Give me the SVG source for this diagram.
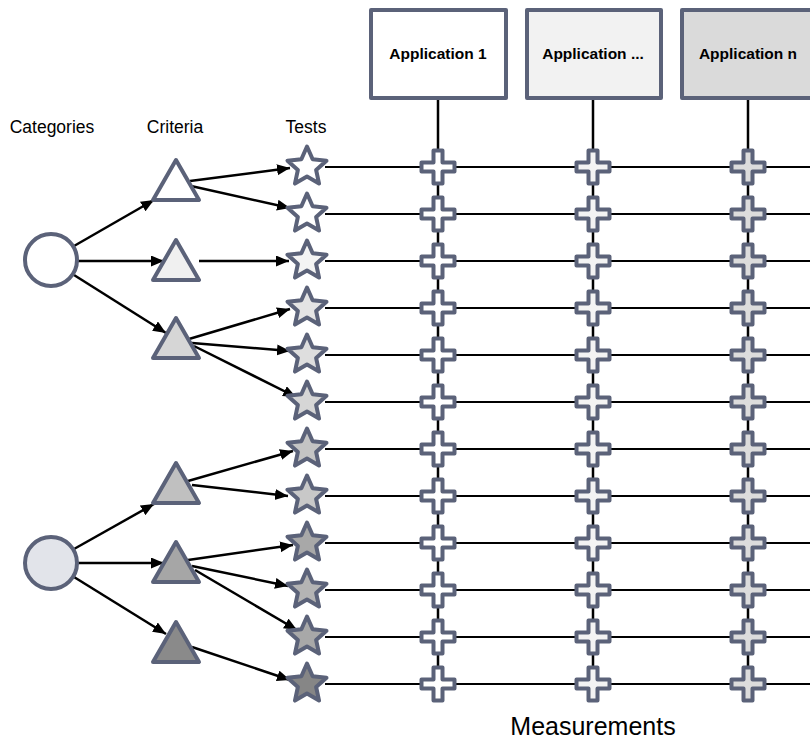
<svg xmlns="http://www.w3.org/2000/svg" xmlns:xlink="http://www.w3.org/1999/xlink" width="810" height="739" viewBox="0 0 810 739">
<defs>
<style>
.sh{stroke:#5b6279;stroke-width:4;stroke-linejoin:round}
.lbl{font-family:"Liberation Sans",Arial,sans-serif;font-size:17.5px;fill:#000}
.app{font-family:"Liberation Sans",Arial,sans-serif;font-size:15.5px;font-weight:bold;fill:#000;text-anchor:middle}
.ar{stroke:#000;stroke-width:2.5;fill:none;marker-end:url(#ah)}
.ln{stroke:#000;stroke-width:2;fill:none}
.vl{stroke:#000;stroke-width:2.5;fill:none}
</style>
<marker id="ah" markerUnits="userSpaceOnUse" markerWidth="14" markerHeight="12" refX="13" refY="5.5" orient="auto">
<path d="M0,0 L13,5.5 L0,11 z" fill="#000"/>
</marker>
<path id="star" d="M0,-20.5 L5.64,-7.77 L19.5,-6.33 L9.13,2.97 L12.05,16.58 L0,9.6 L-12.05,16.58 L-9.13,2.97 L-19.5,-6.33 L-5.64,-7.77 Z"/>
<path id="cross" d="M-4.5,-16.5 H4.5 V-4.5 H16.5 V4.5 H4.5 V16.5 H-4.5 V4.5 H-16.5 V-4.5 H-4.5 Z"/>
<path id="tri" d="M0,-20 L23,20 L-23,20 Z"/>
</defs>
<rect width="810" height="739" fill="#fff"/>

<g id="labels">
<text class="lbl" x="52" y="133" text-anchor="middle">Categories</text>
<text class="lbl" x="175" y="133" text-anchor="middle">Criteria</text>
<text class="lbl" x="306" y="133" text-anchor="middle">Tests</text>
<text class="lbl" x="593" y="735" text-anchor="middle" style="font-size:25px">Measurements</text>
</g>

<g id="connectors">
<line class="vl" x1="438" y1="98" x2="438" y2="684"/>
<line class="vl" x1="593" y1="98" x2="593" y2="684"/>
<line class="vl" x1="748" y1="98" x2="748" y2="684"/>
<line class="ln" x1="325" y1="167" x2="810" y2="167"/>
<line class="ln" x1="325" y1="214" x2="810" y2="214"/>
<line class="ln" x1="325" y1="261" x2="810" y2="261"/>
<line class="ln" x1="325" y1="308" x2="810" y2="308"/>
<line class="ln" x1="325" y1="355" x2="810" y2="355"/>
<line class="ln" x1="325" y1="402" x2="810" y2="402"/>
<line class="ln" x1="325" y1="449" x2="810" y2="449"/>
<line class="ln" x1="325" y1="496" x2="810" y2="496"/>
<line class="ln" x1="325" y1="543" x2="810" y2="543"/>
<line class="ln" x1="325" y1="590" x2="810" y2="590"/>
<line class="ln" x1="325" y1="637" x2="810" y2="637"/>
<line class="ln" x1="325" y1="684" x2="810" y2="684"/>
<line class="ar" x1="74" y1="246" x2="154" y2="200"/>
<line class="ar" x1="78" y1="261" x2="164" y2="261"/>
<line class="ar" x1="74" y1="275" x2="166" y2="333"/>
<line class="ar" x1="190" y1="181" x2="290" y2="168"/>
<line class="ar" x1="191" y1="186" x2="290" y2="208"/>
<line class="ar" x1="199" y1="261" x2="289" y2="261"/>
<line class="ar" x1="189" y1="339" x2="290" y2="309"/>
<line class="ar" x1="192" y1="343" x2="290" y2="351"/>
<line class="ar" x1="194" y1="346" x2="296" y2="397"/>
<line class="ar" x1="74" y1="549" x2="154" y2="504"/>
<line class="ar" x1="78" y1="563" x2="164" y2="563"/>
<line class="ar" x1="74" y1="577" x2="166" y2="634"/>
<line class="ar" x1="188" y1="481" x2="293" y2="451"/>
<line class="ar" x1="192" y1="485" x2="288" y2="496"/>
<line class="ar" x1="188" y1="560" x2="293" y2="545"/>
<line class="ar" x1="192" y1="566" x2="288" y2="586"/>
<line class="ar" x1="195" y1="570" x2="297" y2="630"/>
<line class="ar" x1="192" y1="647" x2="290" y2="680"/>
</g>

<g id="app1"><rect class="sh" x="371" y="10" width="135" height="88" fill="#ffffff"/><text class="app" x="438" y="59">Application 1</text></g>
<g id="app2"><rect class="sh" x="527" y="10" width="134" height="88" fill="#f2f2f2"/><text class="app" x="593" y="59">Application ...</text></g>
<g id="appn"><rect class="sh" x="682" y="10" width="134" height="88" fill="#dadada"/><text class="app" x="748" y="59">Application n</text></g>

<g id="cat1"><circle class="sh" cx="51" cy="260" r="26" fill="#ffffff"/></g>
<g id="cat2"><circle class="sh" cx="51" cy="563" r="26" fill="#e2e4ea"/></g>

<g id="crit1"><use class="sh" xlink:href="#tri" x="176" y="180" fill="#ffffff"/></g>
<g id="crit2"><use class="sh" xlink:href="#tri" x="176" y="260" fill="#f0f0f0"/></g>
<g id="crit3"><use class="sh" xlink:href="#tri" x="176" y="338" fill="#d6d6d6"/></g>
<g id="crit4"><use class="sh" xlink:href="#tri" x="176" y="483" fill="#c0c0c0"/></g>
<g id="crit5"><use class="sh" xlink:href="#tri" x="176" y="562" fill="#a6a6a6"/></g>
<g id="crit6"><use class="sh" xlink:href="#tri" x="176" y="642" fill="#8a8a8a"/></g>

<g id="test1"><use class="sh" xlink:href="#star" x="307" y="167" fill="#ffffff"/></g>
<g id="test2"><use class="sh" xlink:href="#star" x="307" y="214" fill="#ffffff"/></g>
<g id="test3"><use class="sh" xlink:href="#star" x="307" y="261" fill="#f4f4f4"/></g>
<g id="test4"><use class="sh" xlink:href="#star" x="307" y="308" fill="#e4e4e4"/></g>
<g id="test5"><use class="sh" xlink:href="#star" x="307" y="355" fill="#dedede"/></g>
<g id="test6"><use class="sh" xlink:href="#star" x="307" y="402" fill="#d6d6d6"/></g>
<g id="test7"><use class="sh" xlink:href="#star" x="307" y="449" fill="#c4c4c4"/></g>
<g id="test8"><use class="sh" xlink:href="#star" x="307" y="496" fill="#c8c8c8"/></g>
<g id="test9"><use class="sh" xlink:href="#star" x="307" y="543" fill="#a8a8a8"/></g>
<g id="test10"><use class="sh" xlink:href="#star" x="307" y="590" fill="#b4b4b4"/></g>
<g id="test11"><use class="sh" xlink:href="#star" x="307" y="637" fill="#a8a8a8"/></g>
<g id="test12"><use class="sh" xlink:href="#star" x="307" y="684" fill="#868686"/></g>

<g id="measurements">
<g fill="#ffffff">
<use class="sh" xlink:href="#cross" x="438" y="167"/><use class="sh" xlink:href="#cross" x="438" y="214"/><use class="sh" xlink:href="#cross" x="438" y="261"/><use class="sh" xlink:href="#cross" x="438" y="308"/><use class="sh" xlink:href="#cross" x="438" y="355"/><use class="sh" xlink:href="#cross" x="438" y="402"/><use class="sh" xlink:href="#cross" x="438" y="449"/><use class="sh" xlink:href="#cross" x="438" y="496"/><use class="sh" xlink:href="#cross" x="438" y="543"/><use class="sh" xlink:href="#cross" x="438" y="590"/><use class="sh" xlink:href="#cross" x="438" y="637"/><use class="sh" xlink:href="#cross" x="438" y="684"/>
</g>
<g fill="#f3f3f3">
<use class="sh" xlink:href="#cross" x="593" y="167"/><use class="sh" xlink:href="#cross" x="593" y="214"/><use class="sh" xlink:href="#cross" x="593" y="261"/><use class="sh" xlink:href="#cross" x="593" y="308"/><use class="sh" xlink:href="#cross" x="593" y="355"/><use class="sh" xlink:href="#cross" x="593" y="402"/><use class="sh" xlink:href="#cross" x="593" y="449"/><use class="sh" xlink:href="#cross" x="593" y="496"/><use class="sh" xlink:href="#cross" x="593" y="543"/><use class="sh" xlink:href="#cross" x="593" y="590"/><use class="sh" xlink:href="#cross" x="593" y="637"/><use class="sh" xlink:href="#cross" x="593" y="684"/>
</g>
<g fill="#dcdcdc">
<use class="sh" xlink:href="#cross" x="748" y="167"/><use class="sh" xlink:href="#cross" x="748" y="214"/><use class="sh" xlink:href="#cross" x="748" y="261"/><use class="sh" xlink:href="#cross" x="748" y="308"/><use class="sh" xlink:href="#cross" x="748" y="355"/><use class="sh" xlink:href="#cross" x="748" y="402"/><use class="sh" xlink:href="#cross" x="748" y="449"/><use class="sh" xlink:href="#cross" x="748" y="496"/><use class="sh" xlink:href="#cross" x="748" y="543"/><use class="sh" xlink:href="#cross" x="748" y="590"/><use class="sh" xlink:href="#cross" x="748" y="637"/><use class="sh" xlink:href="#cross" x="748" y="684"/>
</g>
</g>
</svg>
